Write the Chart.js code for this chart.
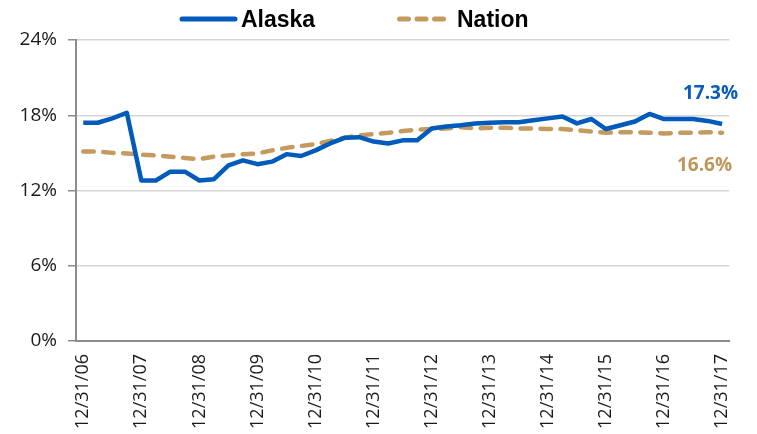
<!DOCTYPE html>
<html>
<head>
<meta charset="utf-8">
<script src="https://cdn.jsdelivr.net/npm/chart.js@4"></script>
<style>
  html, body { margin: 0; padding: 0; background: #fff; }
  #wrap { width: 757px; height: 434px; position: relative; }
</style>
</head>
<body>
<div id="wrap"><canvas id="chart"></canvas></div>
<script>
// quarter-end dates, 12/31/06 .. 12/31/17
const quarterLabels = [
    '12/31/06',
    '3/31/07', '6/30/07', '9/30/07', '12/31/07',
    '3/31/08', '6/30/08', '9/30/08', '12/31/08',
    '3/31/09', '6/30/09', '9/30/09', '12/31/09',
    '3/31/10', '6/30/10', '9/30/10', '12/31/10',
    '3/31/11', '6/30/11', '9/30/11', '12/31/11',
    '3/31/12', '6/30/12', '9/30/12', '12/31/12',
    '3/31/13', '6/30/13', '9/30/13', '12/31/13',
    '3/31/14', '6/30/14', '9/30/14', '12/31/14',
    '3/31/15', '6/30/15', '9/30/15', '12/31/15',
    '3/31/16', '6/30/16', '9/30/16', '12/31/16',
    '3/31/17', '6/30/17', '9/30/17', '12/31/17'
];

const alaskaValues = [
    17.4, 17.4, 17.75, 18.2, 12.8, 12.8, 13.5, 13.5, 12.8, 12.9,
    14.0, 14.4, 14.1, 14.3, 14.9, 14.75, 15.2, 15.75, 16.2, 16.25,
    15.9, 15.75, 16.0, 16.0, 16.95, 17.1, 17.2, 17.35, 17.4, 17.45,
    17.45, 17.6, 17.75, 17.9, 17.35, 17.7, 16.9, 17.2, 17.5, 18.1,
    17.7, 17.7, 17.7, 17.55, 17.3
];

const nationValues = [
    15.1, 15.1, 15.0, 14.95, 14.85, 14.8, 14.7, 14.6, 14.5, 14.7,
    14.8, 14.9, 14.95, 15.2, 15.4, 15.55, 15.7, 15.95, 16.2, 16.4,
    16.5, 16.6, 16.75, 16.85, 16.9, 16.95, 17.05, 16.95, 17.0, 17.0,
    16.95, 16.95, 16.9, 16.9, 16.8, 16.7, 16.6, 16.65, 16.65, 16.6,
    16.55, 16.6, 16.6, 16.65, 16.6
];

const yTicks = [0, 6, 12, 18, 24];

const ALASKA_BLUE = '#005BBB';
const NATION_TAN = '#C49A5E';

// legend drawn by hand so the two items can sit where the original has them
const manualLegend = {
    id: 'manualLegend',
    afterDraw(chart) {
        const ctx = chart.ctx;
        ctx.save();
        ctx.lineCap = 'round';

        ctx.strokeStyle = ALASKA_BLUE;
        ctx.lineWidth = 5;
        ctx.beginPath();
        ctx.moveTo(182, 19);
        ctx.lineTo(235, 19);
        ctx.stroke();

        ctx.strokeStyle = NATION_TAN;
        ctx.setLineDash([9, 8.5]);
        ctx.beginPath();
        ctx.moveTo(399.5, 19);
        ctx.lineTo(443.5, 19);
        ctx.stroke();
        ctx.setLineDash([]);

        ctx.fillStyle = '#000';
        ctx.font = "bold 23px 'Liberation Sans Narrow', 'Liberation Sans', sans-serif";
        ctx.textBaseline = 'alphabetic';
        ctx.textAlign = 'left';
        ctx.fillText(chart.data.datasets[0].label, 241, 27);
        ctx.fillText(chart.data.datasets[1].label, 457, 27);
        ctx.restore();
    }
};

// value labels next to the last point of each series
const endLabels = {
    id: 'endLabels',
    afterDatasetsDraw(chart) {
        const ctx = chart.ctx;
        const offsets = [{ dx: 16, dy: -30, color: '#0A5CC0' }, { dx: 10, dy: 33, color: '#C0965A' }];
        ctx.save();
        ctx.font = "bold 19px 'Open Sans', sans-serif";
        ctx.textAlign = 'right';
        ctx.textBaseline = 'middle';
        chart.data.datasets.forEach((ds, i) => {
            const meta = chart.getDatasetMeta(i);
            const pt = meta.data[meta.data.length - 1];
            const v = ds.data[ds.data.length - 1];
            ctx.fillStyle = offsets[i].color;
            ctx.fillText(v.toFixed(1) + '%', pt.x + offsets[i].dx, pt.y + offsets[i].dy);
        });
        ctx.restore();
    }
};

new Chart(document.getElementById('chart'), {
    type: 'line',
    data: {
        labels: quarterLabels,
        datasets: [
            {
                label: 'Alaska', data: alaskaValues, borderColor: ALASKA_BLUE, borderWidth: 4.5,
                pointRadius: 0, tension: 0, fill: false, borderJoinStyle: 'round'
            },
            {
                label: 'Nation', data: nationValues, borderColor: NATION_TAN, borderWidth: 4.5,
                borderDash: [10.5, 9.5], borderCapStyle: 'round',
                pointRadius: 0, tension: 0, fill: false
            }
        ]
    },
    options: {
        responsive: true,
        maintainAspectRatio: false,
        animation: false,
        layout: { padding: { top: 40, right: 27, bottom: 0, left: 0 } },
        plugins: {
            legend: { display: false },
            tooltip: { enabled: false }
        },
        scales: {
            x: {
                type: 'category',
                offset: true,
                grid: { display: false, drawTicks: false },
                border: { display: true, color: '#8c8c8c', width: 2 },
                ticks: {
                    autoSkip: false,
                    minRotation: 90,
                    maxRotation: 90,
                    padding: 13,
                    color: '#1a1a1a',
                    font: { family: "'Open Sans', sans-serif", size: 18 },
                    callback: (val, i) => (i % 4 === 0 ? quarterLabels[i] : '')
                },
                afterFit: (scale) => { scale.height = 93; }
            },
            y: {
                min: yTicks[0],
                max: yTicks[yTicks.length - 1],
                grid: { color: '#d6d6d6', lineWidth: 1.5, tickLength: 8, tickColor: '#8c8c8c' },
                border: { display: true, color: '#8c8c8c', width: 2 },
                afterBuildTicks: (scale) => { scale.ticks = yTicks.map(v => ({ value: v })); },
                ticks: {
                    padding: 11,
                    color: '#1a1a1a',
                    font: { family: "'Open Sans', sans-serif", size: 19 },
                    callback: (v) => v + '%'
                },
                afterFit: (scale) => { scale.width = 76; }
            }
        }
    },
    plugins: [manualLegend, endLabels]
});
</script>
</body>
</html>
